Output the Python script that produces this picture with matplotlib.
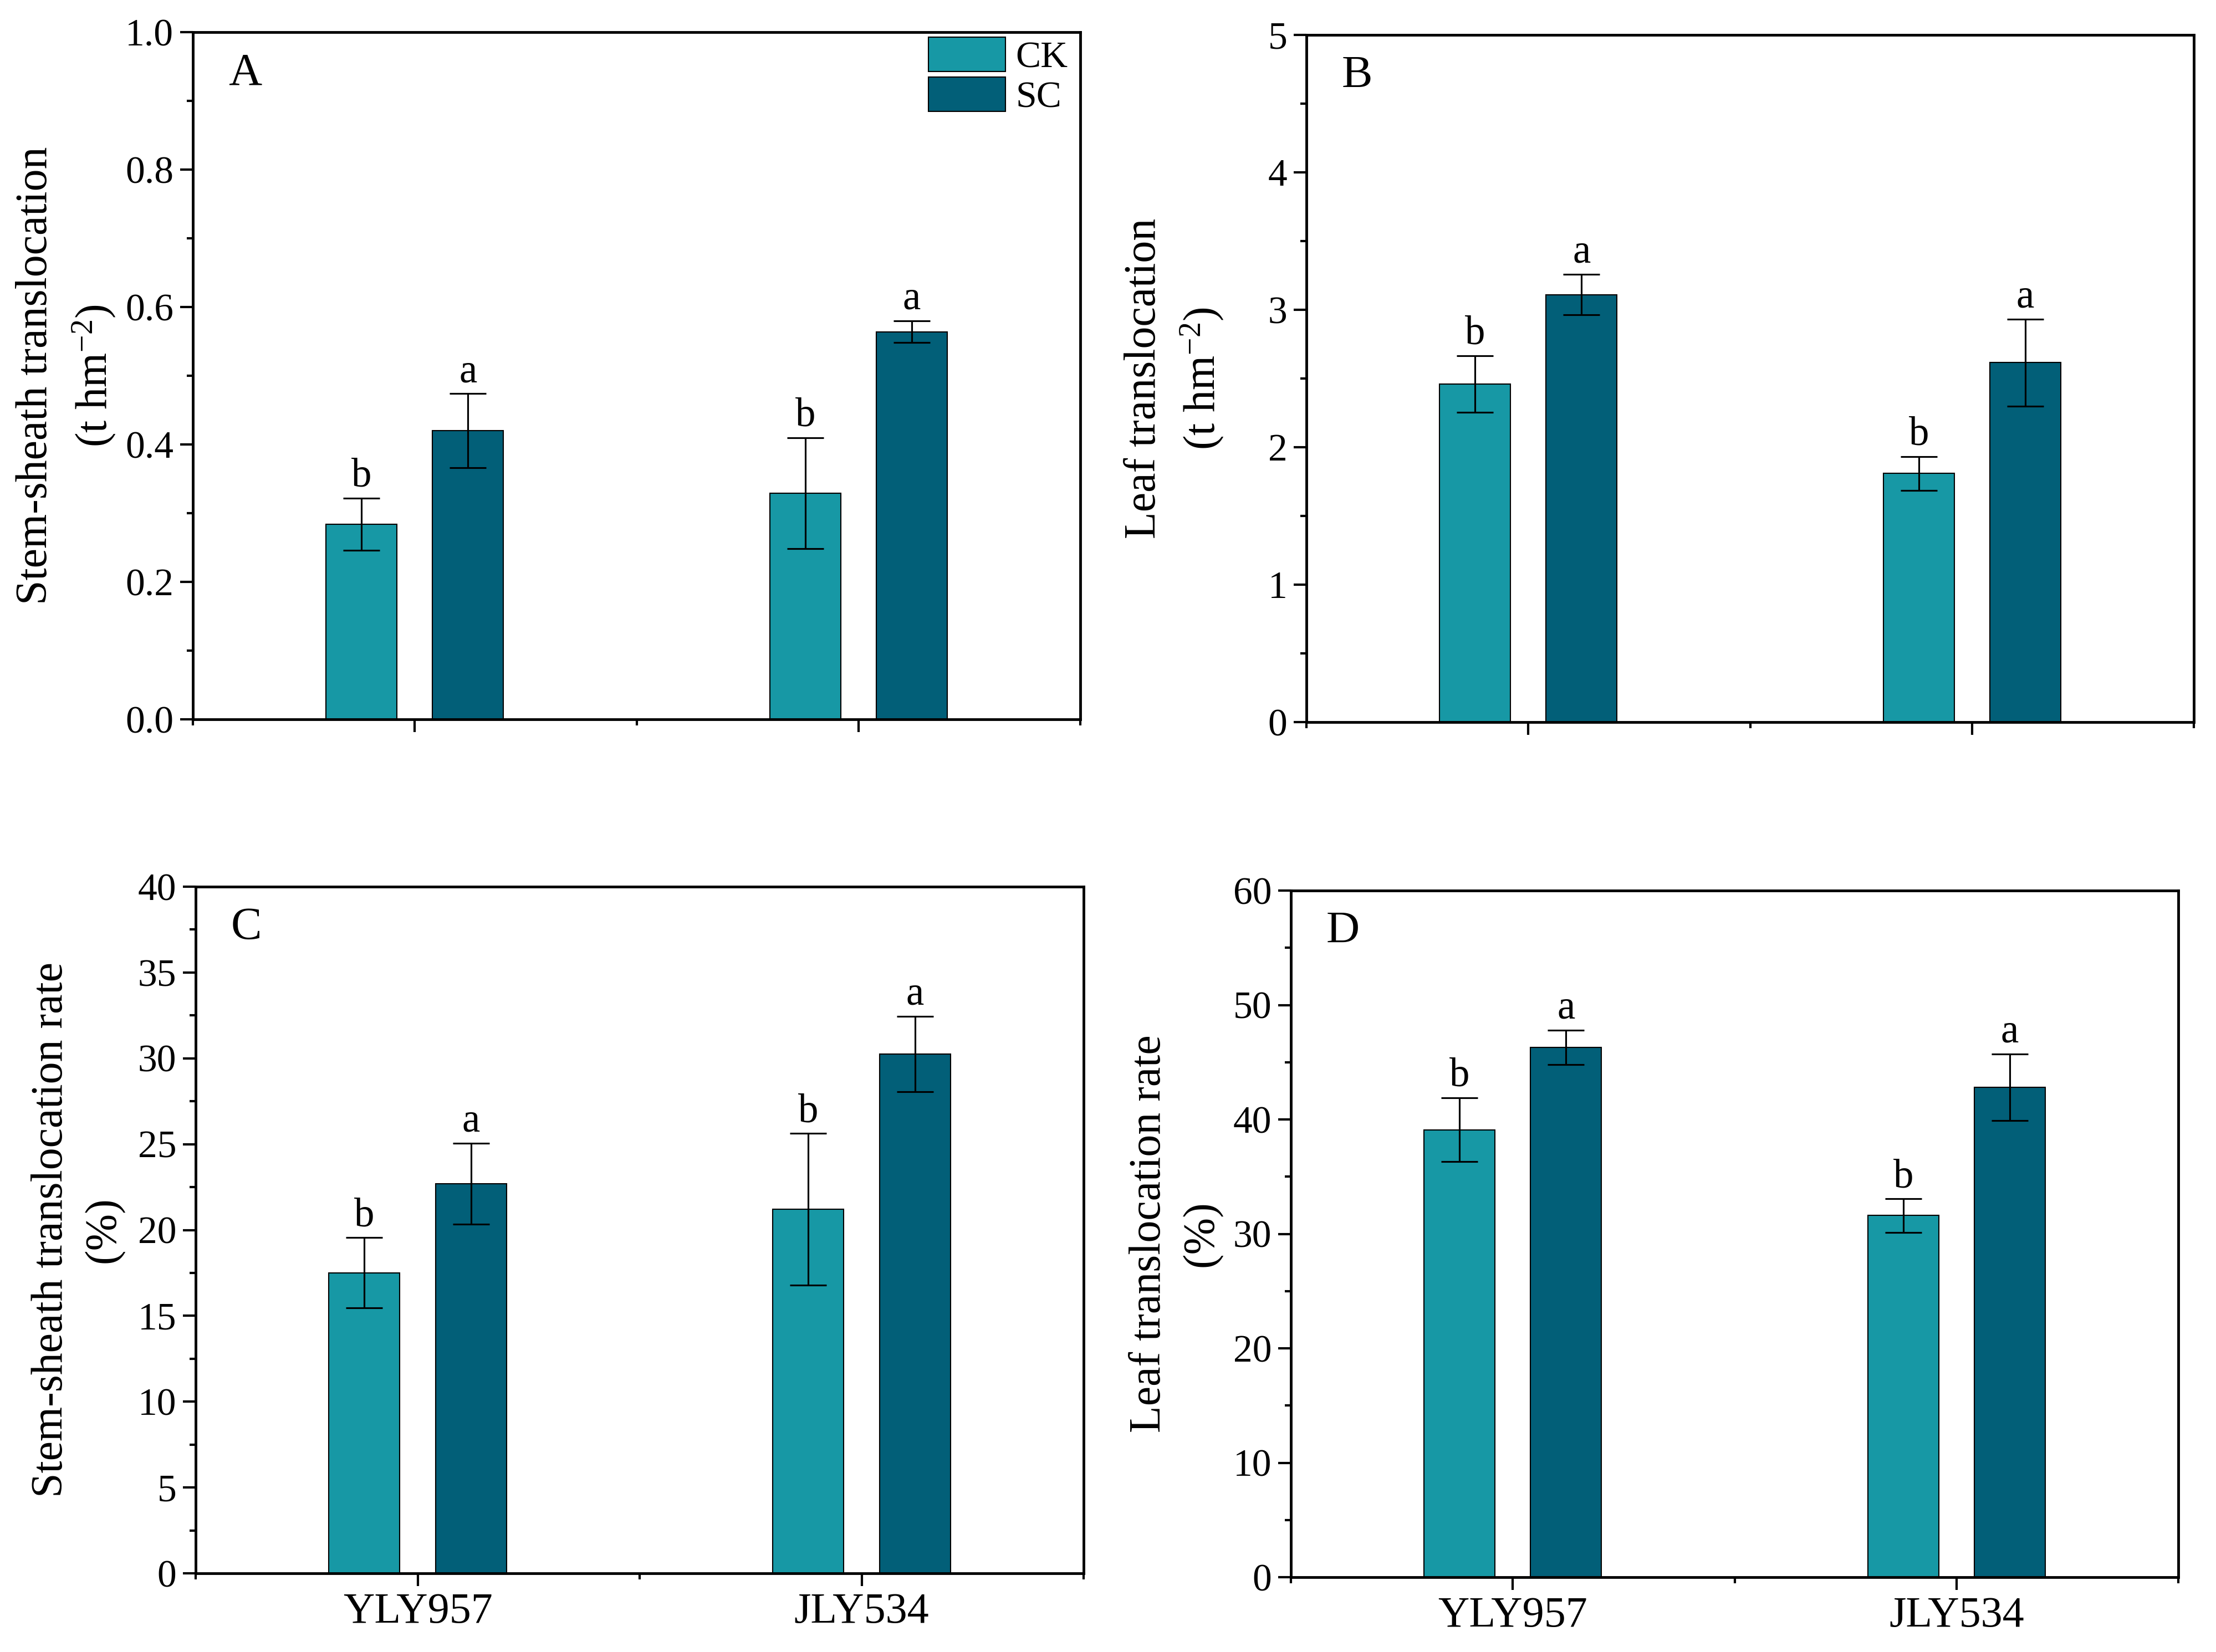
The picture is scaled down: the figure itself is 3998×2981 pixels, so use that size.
import numpy as np
import matplotlib
matplotlib.use("Agg")
import matplotlib.pyplot as plt
from matplotlib.ticker import MultipleLocator, FixedLocator

plt.rcParams["font.family"] = ["Liberation Serif", "DejaVu Serif"]
plt.rcParams["mathtext.fontset"] = "custom"
plt.rcParams["mathtext.rm"] = "Liberation Serif"
plt.rcParams["mathtext.it"] = "Liberation Serif:italic"
plt.rcParams["mathtext.default"] = "regular"

cultivars = ["YLY957", "JLY534"]
treatments = ["CK", "SC"]
colors = ["#1798A5", "#025F78"]

# A: stem-sheath translocation (t hm-2)
stem_ck = [0.284, 0.329]
stem_ck_err = [0.038, 0.081]
stem_sc = [0.420, 0.564]
stem_sc_err = [0.054, 0.016]

# B: leaf translocation (t hm-2)
leaf_ck = [2.46, 1.81]
leaf_ck_err = [0.205, 0.123]
leaf_sc = [3.11, 2.615]
leaf_sc_err = [0.148, 0.318]

# C: stem-sheath translocation rate (%)
stem_rate_ck = [17.5, 21.2]
stem_rate_ck_err = [2.05, 4.42]
stem_rate_sc = [22.7, 30.25]
stem_rate_sc_err = [2.35, 2.2]

# D: leaf translocation rate (%)
leaf_rate_ck = [39.1, 31.6]
leaf_rate_ck_err = [2.8, 1.46]
leaf_rate_sc = [46.3, 42.8]
leaf_rate_sc_err = [1.5, 2.92]

letters_ck = ["b", "b"]
letters_sc = ["a", "a"]

panels = [
    ("A", "Stem-sheath translocation\n(t hm$^{-2}$)", stem_ck, stem_ck_err, stem_sc, stem_sc_err, 1.0, 0.2),
    ("B", "Leaf translocation\n(t hm$^{-2}$)", leaf_ck, leaf_ck_err, leaf_sc, leaf_sc_err, 5, 1),
    ("C", "Stem-sheath translocation rate\n(%)", stem_rate_ck, stem_rate_ck_err, stem_rate_sc, stem_rate_sc_err, 40, 5),
    ("D", "Leaf translocation rate\n(%)", leaf_rate_ck, leaf_rate_ck_err, leaf_rate_sc, leaf_rate_sc_err, 60, 10),
]

# axes rectangles in pixels: left, top, right, bottom
W, H = 3998, 2981
boxes = [(348, 58, 1949, 1298), (2357, 63, 3958, 1303),
         (353, 1600, 1955, 2839), (2329, 1607, 3930, 2846)]
label_x = [-0.085, -0.091, -0.080, -0.077]

fig = plt.figure(figsize=(W / 250, H / 250), dpi=250)

x = np.arange(1, len(cultivars) + 1)
width = 0.16
offset = 0.12

for i, (tag, ylab, ck, ck_err, sc, sc_err, ymax, step) in enumerate(panels):
    l, t, r, b = boxes[i]
    ax = fig.add_axes([l / W, 1 - b / H, (r - l) / W, (b - t) / H])
    err_kw = dict(ecolor="black", elinewidth=0.9, capsize=9.5, capthick=0.9)
    ax.bar(x - offset, ck, width, yerr=ck_err, color=colors[0], edgecolor="black",
           linewidth=0.6, error_kw=err_kw, label=treatments[0])
    ax.bar(x + offset, sc, width, yerr=sc_err, color=colors[1], edgecolor="black",
           linewidth=0.6, error_kw=err_kw, label=treatments[1])

    for j in range(len(cultivars)):
        ax.annotate(letters_ck[j], (x[j] - offset, ck[j] + ck_err[j]), xytext=(0, 1.5),
                    textcoords="offset points", ha="center", va="bottom", fontsize=21)
        ax.annotate(letters_sc[j], (x[j] + offset, sc[j] + sc_err[j]), xytext=(0, 1.5),
                    textcoords="offset points", ha="center", va="bottom", fontsize=21)

    ax.set_xlim(0.5, 2.5)
    ax.set_ylim(0, ymax)
    ax.xaxis.set_major_locator(FixedLocator(x))
    ax.xaxis.set_minor_locator(FixedLocator([0.5, 1.5, 2.5]))
    ax.yaxis.set_major_locator(MultipleLocator(step))
    ax.yaxis.set_minor_locator(MultipleLocator(step / 2))
    ax.tick_params(which="major", direction="out", length=6.5, width=1.2, labelsize=20)
    ax.tick_params(which="minor", direction="out", length=3.3, width=1.2)
    for s in ax.spines.values():
        s.set_linewidth(1.4)

    if i >= 2:
        ax.set_xticks(x)
        ax.set_xticklabels(cultivars, fontsize=22.5)
    else:
        ax.tick_params(axis="x", labelbottom=False)

    ax.set_ylabel(ylab, fontsize=23, linespacing=1.4)
    ax.yaxis.set_label_coords(label_x[i], 0.5)
    ax.text(0.04, 0.94, tag, transform=ax.transAxes, ha="left", va="center", fontsize=24)

    if i == 0:
        ax.legend(loc="upper right", bbox_to_anchor=(0.986, 0.993), frameon=False,
                  fontsize=19.5, handlelength=2.05, handleheight=1.05, labelspacing=0.05,
                  handletextpad=0.27, borderpad=0, borderaxespad=0)

fig.savefig("out.png", dpi=250)
